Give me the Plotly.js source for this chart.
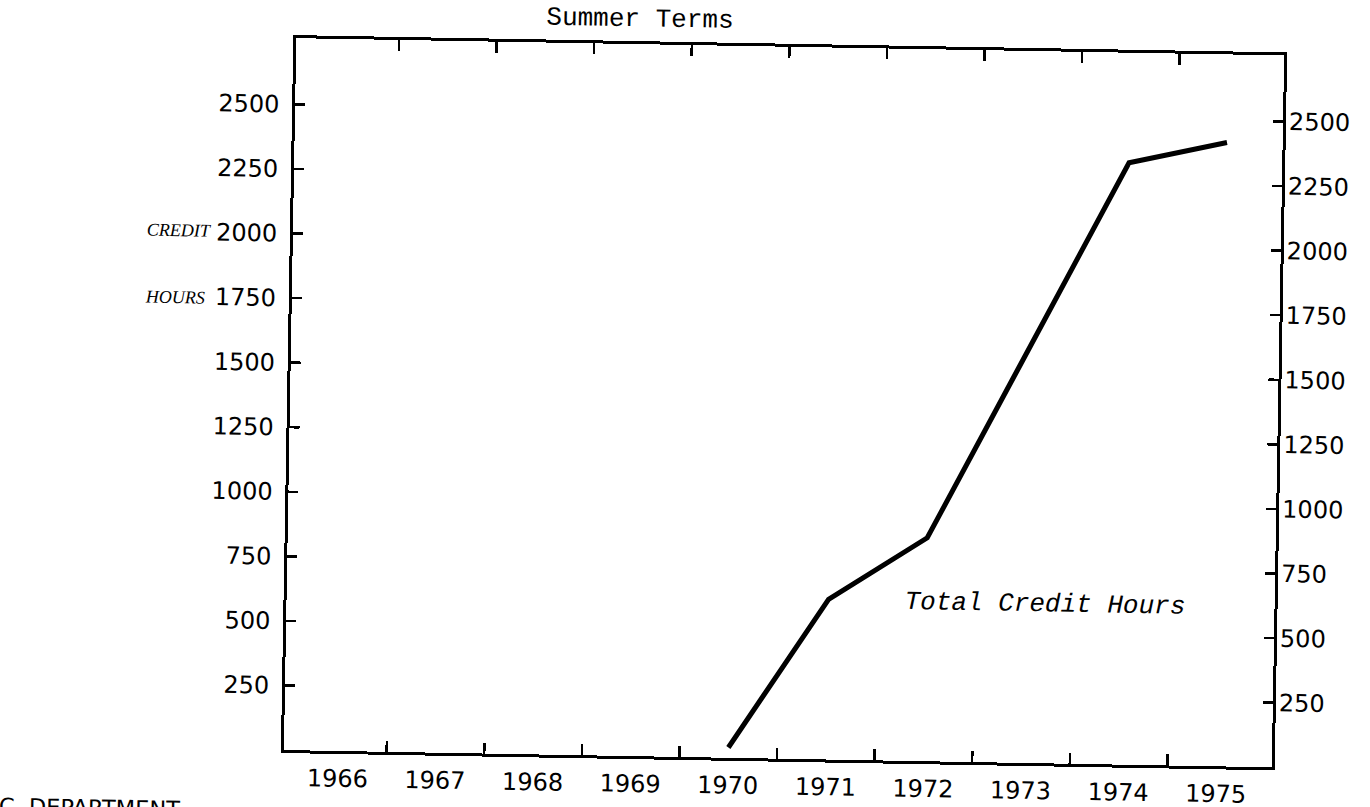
<!DOCTYPE html>
<html>
<head>
<meta charset="utf-8">
<script src="https://cdn.plot.ly/plotly-3.0.1.min.js"></script>
<style>
html, body { margin:0; padding:0; background:#fff; overflow:hidden; width:1370px; height:807px; }
#chart { width:1370px; height:840px; transform: rotate(1deg); transform-origin: 685px 403.5px; }
</style>
</head>
<body>
<div id="chart"></div>
<script>
// ---- data ----
const years = [1966, 1967, 1968, 1969, 1970, 1971, 1972, 1973, 1974, 1975];
const yearLabels = ["1966", "1967", "1968", "1969", "1970", "1971", "1972", "1973", "1974", "1975"];
const yearBoundaries = [1966.5, 1967.5, 1968.5, 1969.5, 1970.5, 1971.5, 1972.5, 1973.5, 1974.5];
const dataYears = [1970, 1971, 1972, 1974, 1975];
const creditHours = [40, 620, 865, 2330, 2415];
const yTicks = [250, 500, 750, 1000, 1250, 1500, 1750, 2000, 2250, 2500];
const yTickLabels = ["250", "500", "750", "1000", "1250", "1500", "1750", "2000", "2250", "2500"];

const numFont = { family: "DejaVu Sans", size: 24, color: "#000" };
const yRange = [0, 2756];

const lineTrace = {
  x: dataYears,
  y: creditHours,
  type: "scatter",
  mode: "lines",
  line: { color: "#000", width: 5 },
  hoverinfo: "skip",
  showlegend: false
};
// same series attached to the right-hand axis so that axis is drawn (fully transparent)
const rightAxisTrace = {
  x: dataYears,
  y: creditHours,
  yaxis: "y2",
  type: "scatter",
  mode: "lines",
  line: { color: "rgba(0,0,0,0)", width: 0 },
  opacity: 0,
  hoverinfo: "skip",
  showlegend: false
};

const layout = {
  width: 1370,
  height: 840,
  margin: { l: 290, r: 92, t: 45, b: 83 },
  paper_bgcolor: "#fff",
  plot_bgcolor: "#fff",
  showlegend: false,
  title: {
    text: "Summer Terms",
    font: { family: "Liberation Mono", size: 26, color: "#000" },
    xref: "container", x: 0.4623, xanchor: "center",
    yref: "container", y: 1 - 18 / 840, yanchor: "middle"
  },
  xaxis: {
    type: "linear",
    range: [1965.447, 1975.57],
    tickmode: "array",
    tickvals: years,
    ticktext: yearLabels,
    ticks: "",
    showline: true, linewidth: 3, linecolor: "#000",
    mirror: "ticks",
    showgrid: false, zeroline: false,
    tickfont: numFont,
    ticklabelstandoff: 4,
    minor: {
      tickmode: "array",
      tickvals: yearBoundaries,
      ticks: "inside", ticklen: 11, tickwidth: 2.5, tickcolor: "#000",
      showgrid: false
    }
  },
  yaxis: {
    range: yRange,
    tickmode: "array",
    tickvals: yTicks,
    ticktext: yTickLabels,
    ticks: "inside", ticklen: 10, tickwidth: 2.5, tickcolor: "#000",
    showline: true, linewidth: 3, linecolor: "#000",
    mirror: "ticks",
    showgrid: false, zeroline: false,
    tickfont: numFont,
    ticklabelstandoff: 8
  },
  yaxis2: {
    overlaying: "y",
    side: "right",
    anchor: "x",
    range: yRange,
    tickmode: "array",
    tickvals: yTicks,
    ticktext: yTickLabels,
    ticks: "",
    showline: false,
    showgrid: false, zeroline: false,
    tickfont: numFont,
    ticklabelstandoff: 5
  },
  annotations: [
    { text: "Total Credit Hours", xref: "paper", yref: "paper", x: 0.7677, y: 0.2237,
      xanchor: "center", yanchor: "middle", showarrow: false,
      font: { family: "Liberation Mono", size: 26, color: "#000", style: "italic" } },
    { text: "CREDIT", xref: "paper", yref: "paper", x: -0.1150, y: 0.7278,
      xanchor: "center", yanchor: "middle", showarrow: false,
      font: { family: "Liberation Serif", size: 18, color: "#000", style: "italic" } },
    { text: "HOURS", xref: "paper", yref: "paper", x: -0.1180, y: 0.6336,
      xanchor: "center", yanchor: "middle", showarrow: false,
      font: { family: "Liberation Serif", size: 18, color: "#000", style: "italic" } },
    { text: "C\u00a0\u00a0DEPARTMENT", xref: "paper", yref: "paper", x: (189 - 290) / 988, y: (757 - 818) / 712,
      xanchor: "right", yanchor: "middle", showarrow: false,
      font: { family: "DejaVu Sans", size: 22.5, color: "#000" } }
  ]
};

Plotly.newPlot("chart", [lineTrace, rightAxisTrace], layout, { staticPlot: true, displayModeBar: false });
</script>
</body>
</html>
